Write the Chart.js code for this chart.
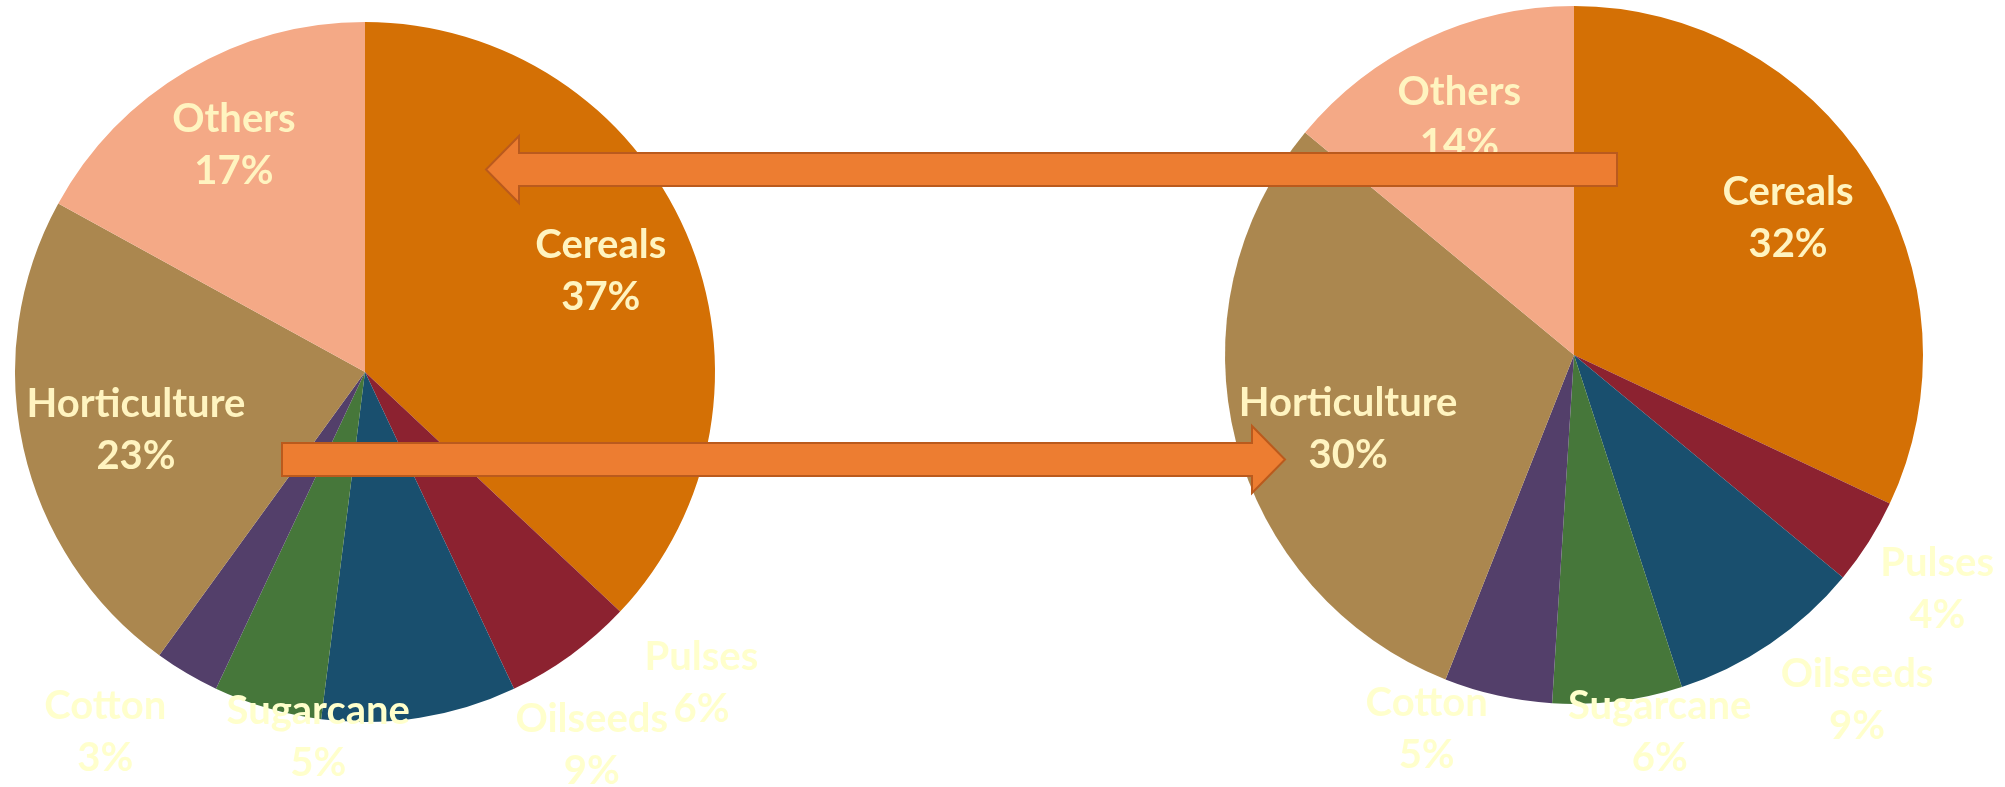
<!DOCTYPE html>
<html>
<head>
<meta charset="utf-8">
<script src="https://cdn.jsdelivr.net/npm/chart.js@4.4.1/dist/chart.umd.min.js"></script>
<style>
  html, body { margin: 0; padding: 0; background: #fff; }
  #wrap { position: relative; width: 2005px; height: 787px; overflow: hidden; }
  #wrap canvas { position: absolute; left: 0; top: 0; }
</style>
</head>
<body>
<div id="wrap">
  <canvas id="pieBefore" width="2005" height="787"></canvas>
  <canvas id="pieAfter" width="2005" height="787"></canvas>
</div>
<script>
// Crop groups, same order in both pies (clockwise from 12 o'clock)
const categories = ["Cereals", "Pulses", "Oilseeds", "Sugarcane", "Cotton", "Horticulture", "Others"];
const sharesBefore = [37, 6, 9, 5, 3, 23, 17];
const sharesAfter = [32, 4, 9, 6, 5, 30, 14];

const sliceColors = ["#D47005", "#8C2230", "#194F6E", "#46773A", "#533F6A", "#AB874F", "#F4A986"];

// label placement per slice: [distance as fraction of radius, angle shift from slice middle in degrees]
const labelPlaceBefore = [[0.733, 0.2], [1.31, -11.2], [1.247, -22.3], [1.051, -8.9], [1.269, 5.2], [0.675, -1.6], [0.749, 0.6]];
const labelPlaceAfter = [[0.728, -0.2], [1.238, 0.4], [1.278, -5.2], [1.108, -5.6], [1.152, 8.9], [0.681, -3.7], [0.755, -0.6]];

const LABEL_FONT = "bold 40px Lato";
const LINE_GAP = 52;

// draws "Name / NN%" for every arc at a polar offset from the pie centre
const sliceLabels = {
  id: "sliceLabels",
  afterDatasetsDraw(chart, args, opts) {
    const ctx = chart.ctx;
    const meta = chart.getDatasetMeta(0);
    const values = chart.data.datasets[0].data;
    ctx.save();
    ctx.font = LABEL_FONT;
    ctx.textAlign = "center";
    ctx.textBaseline = "middle";
    meta.data.forEach((arc, i) => {
      const [f, shift] = opts.place[i];
      const mid = (arc.startAngle + arc.endAngle) / 2 + shift * Math.PI / 180;
      const r = arc.outerRadius * f;
      const x = arc.x + r * Math.cos(mid);
      const y = arc.y + r * Math.sin(mid);
      ctx.fillStyle = f > 1 ? "#FFFFCC" : "#FFF4C0";
      ctx.fillText(chart.data.labels[i], x, y - LINE_GAP / 2);
      ctx.fillText(values[i] + "%", x, y + LINE_GAP / 2);
    });
    ctx.restore();
  }
};

// two block arrows linking the pies, drawn over everything
function blockArrow(ctx, tailX, tipX, cy, shaftH, headH, headL) {
  const dir = tipX > tailX ? 1 : -1;
  const baseX = tipX - dir * headL;
  ctx.beginPath();
  ctx.moveTo(tailX, cy - shaftH / 2);
  ctx.lineTo(baseX, cy - shaftH / 2);
  ctx.lineTo(baseX, cy - headH / 2);
  ctx.lineTo(tipX, cy);
  ctx.lineTo(baseX, cy + headH / 2);
  ctx.lineTo(baseX, cy + shaftH / 2);
  ctx.lineTo(tailX, cy + shaftH / 2);
  ctx.closePath();
  ctx.fillStyle = "#ED7D31";
  ctx.fill();
  ctx.lineWidth = 2;
  ctx.strokeStyle = "#BA5A1D";
  ctx.stroke();
}

const arrows = {
  id: "arrows",
  afterDraw(chart) {
    const ctx = chart.ctx;
    ctx.save();
    blockArrow(ctx, 1617, 486, 169.5, 33, 67, 33);
    blockArrow(ctx, 282, 1285, 459.5, 33, 67, 33);
    ctx.restore();
  }
};

function makePie(id, values, place, padding, extraPlugins) {
  return new Chart(document.getElementById(id), {
    type: "pie",
    data: {
      labels: categories,
      datasets: [{
        data: values,
        backgroundColor: sliceColors,
        borderWidth: 0
      }]
    },
    options: {
      responsive: false,
      animation: false,
      layout: { padding: padding },
      plugins: {
        legend: { display: false },
        tooltip: { enabled: false },
        sliceLabels: { place: place }
      }
    },
    plugins: [sliceLabels].concat(extraPlugins)
  });
}

makePie("pieBefore", sharesBefore, labelPlaceBefore, { left: 15, top: 22, right: 1290, bottom: 65 }, []);
makePie("pieAfter", sharesAfter, labelPlaceAfter, { left: 1225, top: 6, right: 82, bottom: 83 }, [arrows]);
</script>
</body>
</html>
